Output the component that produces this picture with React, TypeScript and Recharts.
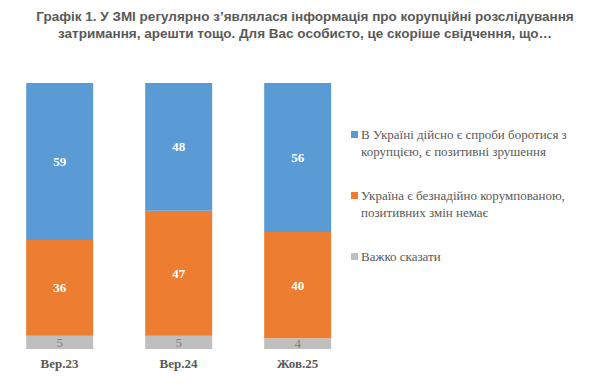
import { Bar, BarChart, LabelList, XAxis, YAxis } from 'recharts';

const categories = ['Вер.23', 'Вер.24', 'Жов.25'];
const positiveValues = [59, 48, 56];
const hopelessValues = [36, 47, 40];
const hardToSayValues = [5, 5, 4];

const seriesNames = [
  'В Україні дійсно є спроби боротися з корупцією, є позитивні зрушення',
  'Україна є безнадійно корумпованою, позитивних змін немає',
  'Важко сказати',
];

const TITLE_LINES = [
  'Графік 1. У ЗМІ регулярно з’являлася інформація про корупційні розслідування',
  'затримання, арешти тощо. Для Вас особисто, це скоріше свідчення, що…',
];

const COLOR_BLUE = '#5b9bd5';
const COLOR_ORANGE = '#ed7d31';
const COLOR_GREY = '#bfbfbf';
const TEXT_GREY = '#595959';
const SERIF = '"Liberation Serif", "Times New Roman", serif';

const data = categories.map((name, i) => ({
  name,
  hard: hardToSayValues[i],
  hopeless: hopelessValues[i],
  positive: positiveValues[i],
}));

const legendItems = [
  { label: seriesNames[0], color: COLOR_BLUE },
  { label: seriesNames[1], color: COLOR_ORANGE },
  { label: seriesNames[2], color: COLOR_GREY },
];

// Legend sits to the right of the plot, like the Excel original.
function LegendBox() {
  return (
    <div
      style={{
        position: 'absolute',
        left: 351,
        top: 126,
        width: 232,
        fontFamily: SERIF,
        fontSize: 13,
        color: TEXT_GREY,
        lineHeight: '17px',
      }}
    >
      {legendItems.map((item) => (
        <div key={item.label} style={{ marginBottom: 27, display: 'flex' }}>
          <span
            style={{
              display: 'inline-block',
              width: 7,
              height: 7,
              background: item.color,
              marginTop: 5,
              marginRight: 3,
              flexShrink: 0,
            }}
          />
          <span style={{ fontFamily: SERIF }}>{item.label}</span>
        </div>
      ))}
    </div>
  );
}

export default function App() {
  return (
    <div style={{ position: 'absolute', left: 0, top: 0, width: 590, height: 390, background: '#fff' }}>
      <div
        style={{
          position: 'absolute',
          left: 5,
          top: 8,
          width: 600,
          textAlign: 'center',
          fontFamily: '"Liberation Sans", Arial, sans-serif',
          fontWeight: 'bold',
          fontSize: 13.5,
          lineHeight: '17px',
          color: TEXT_GREY,
        }}
      >
        <div>{TITLE_LINES[0]}</div>
        <div>{TITLE_LINES[1]}</div>
      </div>
      <BarChart
        width={590}
        height={390}
        data={data}
        margin={{ top: 83, right: 233, left: 0, bottom: 0 }}
        barCategoryGap="22%"
        style={{ position: 'absolute', left: 0, top: 0 }}
      >
        <XAxis
          dataKey="name"
          axisLine={false}
          tickLine={false}
          height={41}
          tick={{ fill: TEXT_GREY, fontSize: 13, fontWeight: 'bold', fontFamily: SERIF }}
          tickMargin={4}
        />
        <YAxis hide domain={[0, 100]} />
        <Bar dataKey="hard" stackId="a" fill={COLOR_GREY} isAnimationActive={false}>
          <LabelList dataKey="hard" position="center" fill="#808080" fontSize={13} fontFamily={SERIF} />
        </Bar>
        <Bar dataKey="hopeless" stackId="a" fill={COLOR_ORANGE} isAnimationActive={false}>
          <LabelList dataKey="hopeless" position="center" fill="#fff" fontSize={13} fontWeight="bold" fontFamily={SERIF} />
        </Bar>
        <Bar dataKey="positive" stackId="a" fill={COLOR_BLUE} isAnimationActive={false}>
          <LabelList dataKey="positive" position="center" fill="#fff" fontSize={13} fontWeight="bold" fontFamily={SERIF} />
        </Bar>
      </BarChart>
      <LegendBox />
    </div>
  );
}
